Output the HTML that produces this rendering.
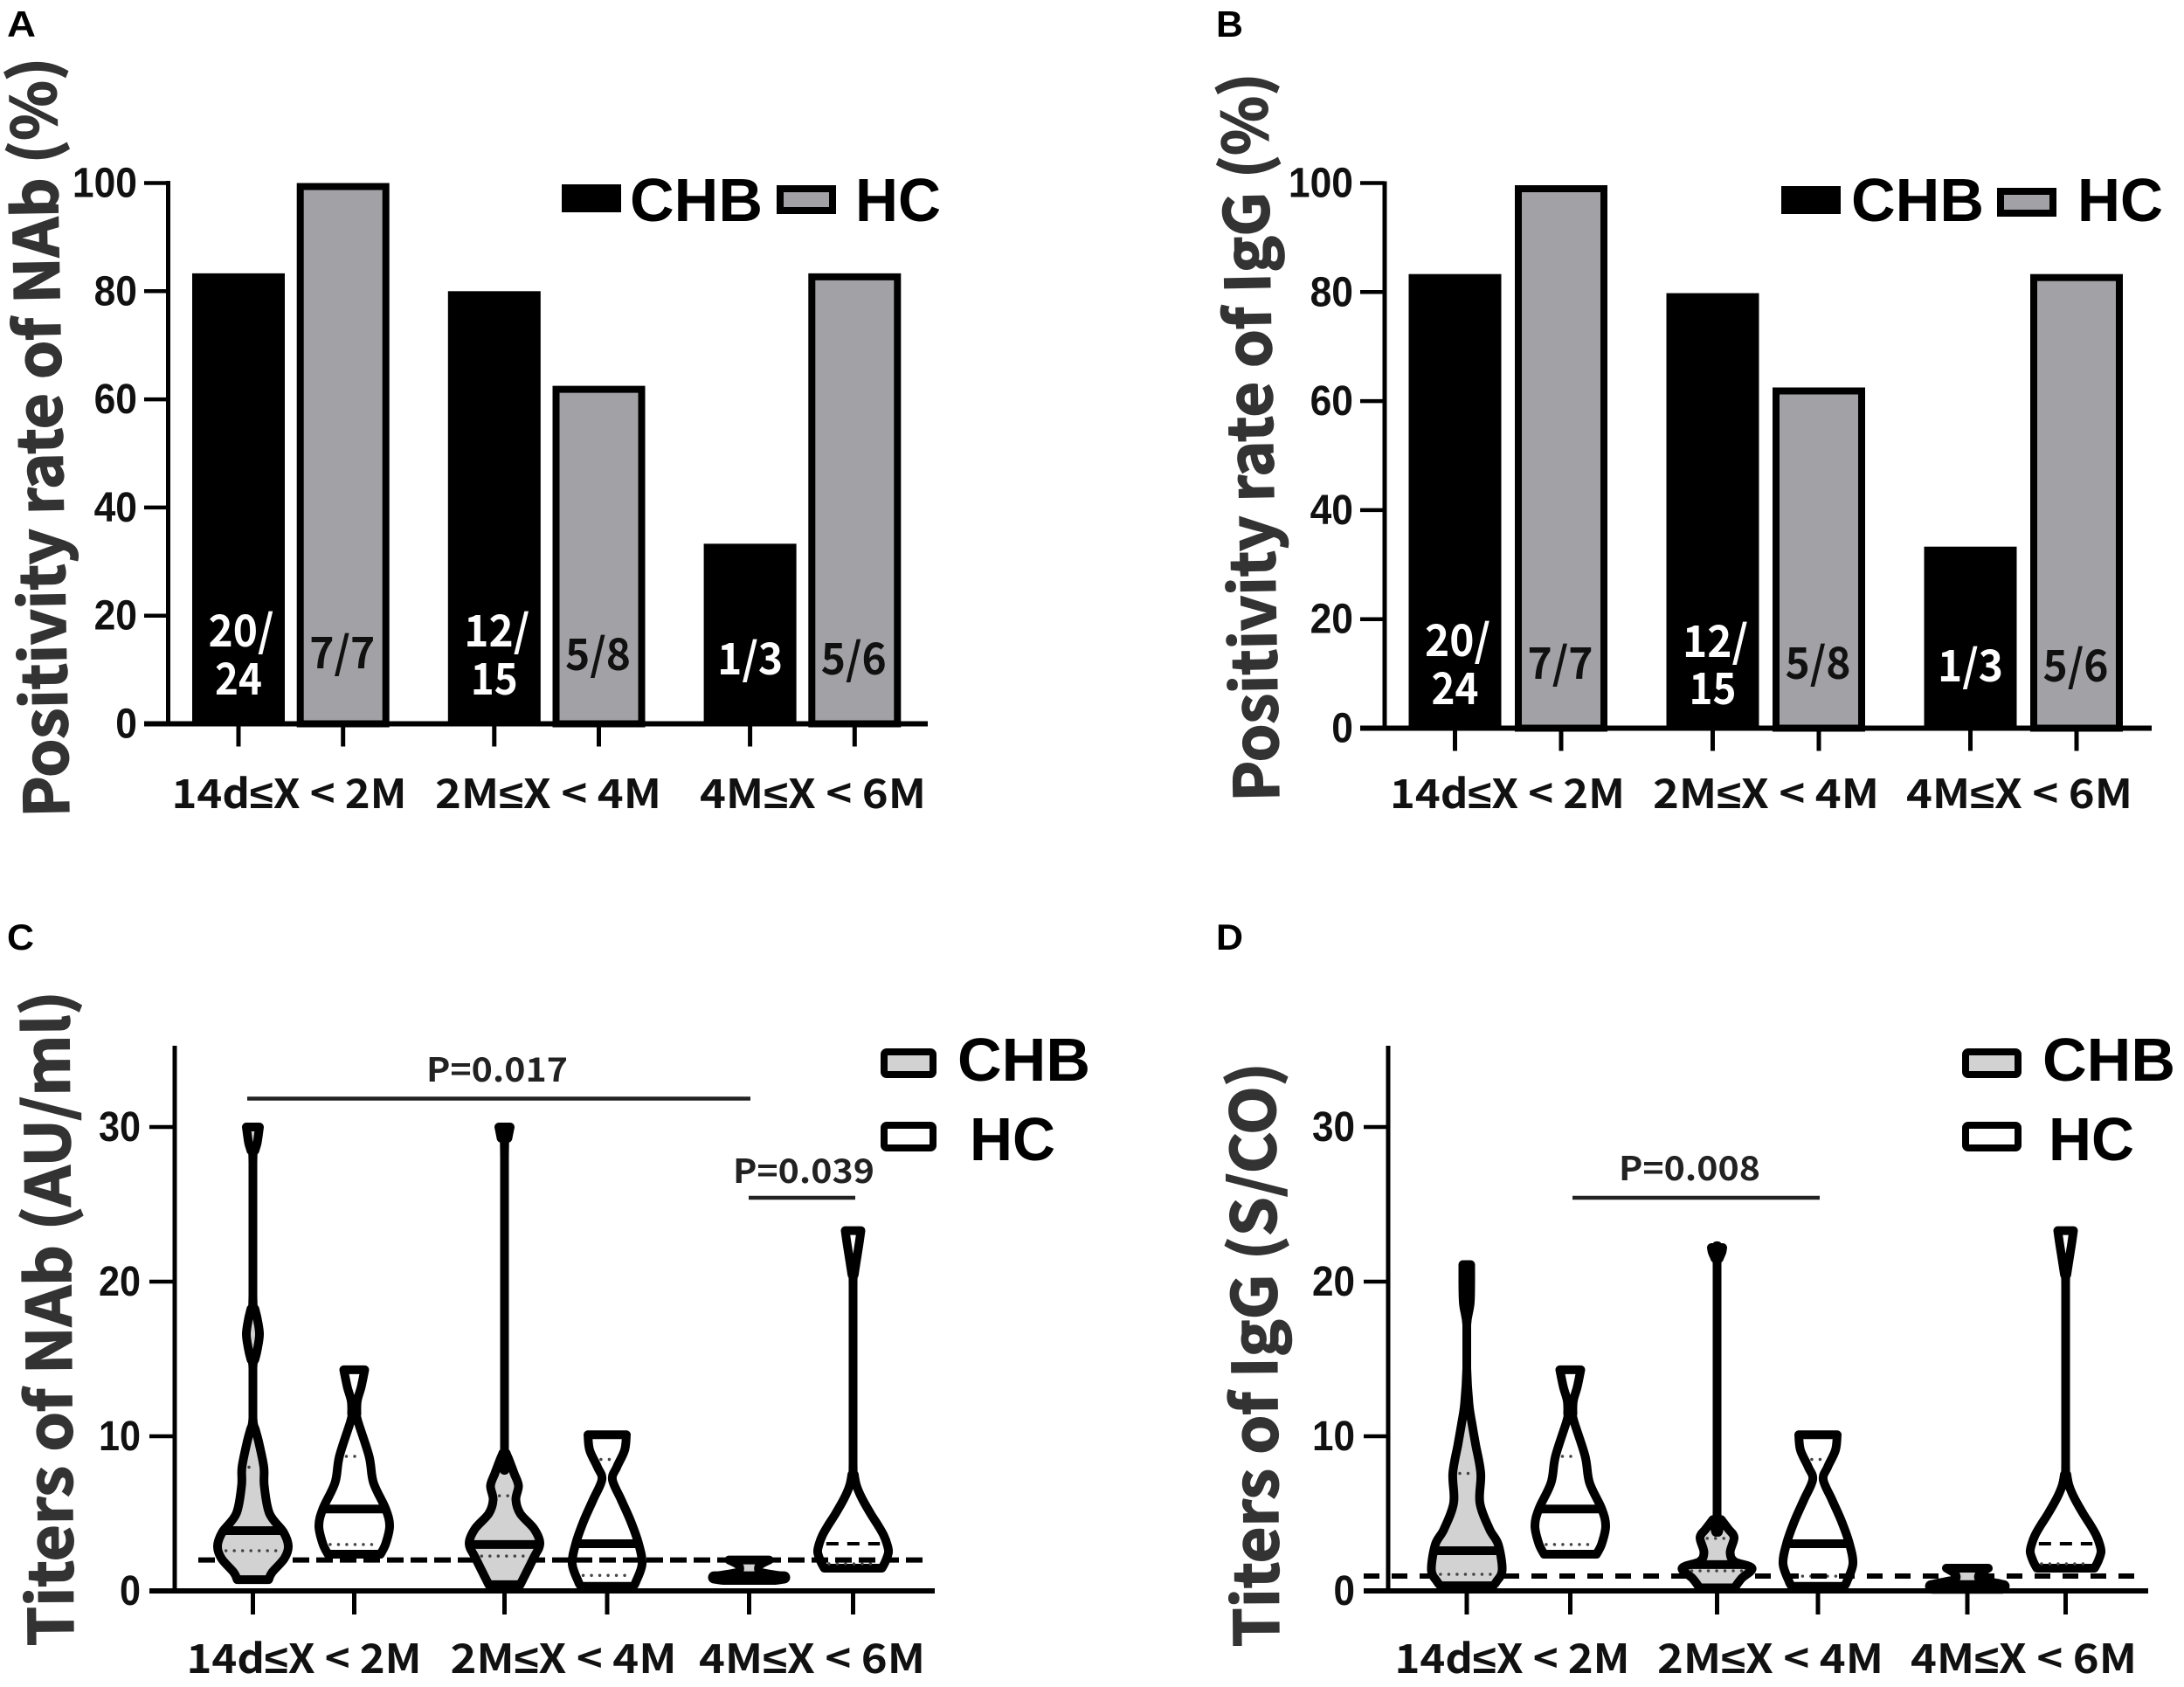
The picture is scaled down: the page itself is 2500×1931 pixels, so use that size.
<!DOCTYPE html>
<html lang="en">
<head>
<meta charset="utf-8">
<title>Positivity rates and titers of NAb and IgG</title>
<style>
html,body{margin:0;padding:0;background:#fff;}
svg{display:block;}
text{font-family:"Liberation Sans",sans-serif;font-weight:bold;}
</style>
</head>
<body>
<svg id="figure" xmlns="http://www.w3.org/2000/svg" width="2500" height="1931" viewBox="0 0 2500 1931"></svg>
<script>
/* ---------- data: shared ---------- */
const categories = ["14d≤X < 2M", "2M≤X < 4M", "4M≤X < 6M"];
const seriesNames = ["CHB", "HC"];

/* ---------- data: bar panels (percent) ---------- */
const nabPositivityCHB = [83.3, 80, 33.3];
const nabPositivityHC = [100, 62.5, 83.3];
const iggPositivityCHB = [83.3, 79.8, 33.3];
const iggPositivityHC = [99.6, 62.5, 83.3];
const positivityTicks = [0, 20, 40, 60, 80, 100];
const fractionsCHB = [["20/", "24"], ["12/", "15"], ["1/3"]];
const fractionsHC = [["7/7"], ["5/8"], ["5/6"]];

/* ---------- data: violin panels, pairs of [titer, density] ---------- */
const titerTicks = [0, 10, 20, 30];

const nabCHB14d = [[30,7.5],[29,5],[28.5,2.5],[27.7,0],[19.1,0],[18.2,2.5],[17.6,5],[16.6,7.5],[15.6,5],[15,2.5],[14.4,0],[11.2,0],[10.4,3],[9.66,6.5],[8,12.5],[6.8,13],[5,19],[3.8,35],[2.9,40.5],[2.1,36],[1.2,22],[0.73,18]];
const nabHC14d = [[14.3,12],[13.2,8],[12.3,3.5],[11.5,3],[11,4],[8.7,17],[7,22],[5.3,36],[4.2,40.5],[3.05,36],[2.37,30]];
const nabCHB2M = [[30,6.5],[29.3,4],[28.1,0],[9.3,0],[8.9,2],[8.5,5],[7.6,11],[6.8,16],[5.9,13],[5,18],[4,34],[3.05,40.5],[2.1,33],[0.4,18]];
const nabHC2M = [[10.1,22],[9.1,20],[8,11],[7.2,6],[5.9,16],[4.5,27],[3.05,36],[1.75,40],[0.6,33],[0.3,30]];
const nabCHB4M = [[2,23],[1.65,12],[1.25,12],[1.1,22],[0.95,38],[0.87,40],[0.75,38],[0.68,30]];
const nabHC4M = [[23.3,9],[22.5,7],[20.5,1.5],[19.7,0],[8.3,0],[7.5,1.5],[6.8,4],[6,10],[5,20],[4.2,29],[3.6,35],[3,39],[2.5,40.5],[1.9,37],[1.47,33]];
const nabMedians = [[3.9, 3.0, 0.87], [5.3, 3.05, 3.05]];
const nabLowerQuartiles = [[2.6, 2.25, null], [3.0, 1.0, 1.75]];
const nabUpperQuartiles = [[8.0, 6.15, null], [8.7, 8.5, null]];

const iggCHB14d = [[21.1,4.5],[18.7,4],[17.2,0],[14.4,0],[12.1,2.5],[10.8,6],[9.5,10],[7.6,16],[5.7,15],[4,26],[3,36],[1.35,40.5],[0.6,34],[0.33,30]];
const iggHC14d = [[14.3,12],[13.2,8],[12.3,3.5],[11.5,3],[11,4],[8.7,17],[7,22],[5.3,36],[4.2,40.5],[3.05,36],[2.37,30]];
const iggCHB2M = [[22.2,6.5],[21.9,5.5],[21.5,2.5],[21,0],[5.1,0],[4.6,5],[4,13],[3.45,19.5],[2.5,15],[1.9,20],[1.47,40],[0.8,28],[0.2,20]];
const iggHC2M = [[10.1,22],[9.1,20],[8,11],[7.2,6],[5.9,16],[4.5,27],[3.05,36],[1.75,40],[0.6,33],[0.3,30]];
const iggCHB4M = [[1.47,24],[1.1,14],[0.75,14],[0.6,25],[0.42,40],[0.25,42],[0.1,40]];
const iggHC4M = [[23.3,9],[22.5,7],[20.5,1.5],[19.7,0],[8.3,0],[7.5,1.5],[6.8,4],[6,10],[5,20],[4.2,29],[3.6,35],[3,39],[2.5,40.5],[1.9,37],[1.47,33]];
const iggMedians = [[2.6, 1.7, 0.3], [5.3, 3.05, 3.05]];
const iggLowerQuartiles = [[1.07, 1.3, null], [3.0, 0.95, 1.75]];
const iggUpperQuartiles = [[7.6, 3.4, null], [8.7, 8.5, null]];

/* ---------- helpers ---------- */
const NS = "http://www.w3.org/2000/svg";
const root = document.getElementById("figure");
const NOTO = 'font-family:"Noto Sans CJK SC","Liberation Sans",sans-serif;font-weight:bold;';

function mk(tag, attrs, parent) {
  const el = document.createElementNS(NS, tag);
  for (const k in attrs) el.setAttribute(k, attrs[k]);
  (parent || root).appendChild(el);
  return el;
}

function label(parent, str, x, y, size, width, fill, extra) {
  const el = mk("text", Object.assign({
    x: x, y: y, "font-size": size, fill: fill || "#111",
    textLength: width, lengthAdjust: "spacingAndGlyphs"
  }, extra || {}), parent);
  el.textContent = str;
  return el;
}

function rotatedTitle(parent, str, baselineX, bottomY, topY, size, tilt) {
  const el = mk("text", {
    x: baselineX, y: bottomY, "font-size": size, fill: "#333",
    stroke: "#333", "stroke-width": 1.6,
    style: NOTO,
    textLength: bottomY - topY, lengthAdjust: "spacingAndGlyphs",
    transform: "rotate(" + (-90 - tilt) + " " + baselineX + " " + bottomY + ")"
  }, parent);
  el.textContent = str;
  
  
  return el;
}

function panelLetter(str, x, y, w) {
  const el = label(root, str, x, y, 42, w, "#000");
  
  
}

function slugify(s) {
  return s.replace("≤", "-to-").replace(" < ", "-").replace(/\s+/g, "").toLowerCase();
}

function categoryLabel(parent, str, x, y, width) {
  const el = mk("text", {
    x: x, y: y, "font-size": 46, fill: "#111", style: NOTO,
    textLength: width, lengthAdjust: "spacingAndGlyphs"
  }, parent);
  const parts = str.split("≤");
  const a = mk("tspan", {}, el);
  a.textContent = parts[0];
  const b = mk("tspan", {style: 'font-family:"Liberation Sans",sans-serif;'}, el);
  b.textContent = "≤";
  const c = mk("tspan", {}, el);
  c.textContent = parts[1];
  return el;
}

function drawAxes(g, cfg) {
  const yTop = cfg.axisTop;
  const y0 = cfg.y(0);
  const yAxis = mk("line", {x1: cfg.axisX, x2: cfg.axisX, y1: yTop - 2, y2: y0 + 3, stroke: "#000", "stroke-width": 5}, g);
  
  
  const xAxis = mk("line", {x1: cfg.xStart, x2: cfg.xEnd, y1: y0, y2: y0, stroke: "#000", "stroke-width": 6}, g);
  
  

  cfg.ticks.forEach(function (t) {
    const ty = cfg.y(t);
    const tick = mk("line", {x1: cfg.xStart, x2: cfg.axisX, y1: ty, y2: ty, stroke: "#000", "stroke-width": 4.5}, g);
    
    
    const s = String(t);
    const w = s.length * cfg.digitWidth;
    const lab = label(g, s, cfg.tickRight - w, ty + 16, 48, w, "#111");
    
    
  });

  categories.forEach(function (c, gi) {
    [0, 1].forEach(function (si) {
      const tx = cfg.x(gi, si);
      const tick = mk("line", {x1: tx, x2: tx, y1: y0, y2: y0 + cfg.tickLen, stroke: "#000", "stroke-width": 5}, g);
      
      
    });
    const w = gi === 0 ? 269 : 259;
    const lab = categoryLabel(g, c, cfg.labelCenters[gi] - w / 2, cfg.labelY, w);
    
    
  });
}

/* ---------- bar panels ---------- */
function fractionWidth(str) {
  let w = 0;
  for (const ch of str) w += ch === "/" ? 21 : 27;
  return w;
}

function drawBarPanel(cfg) {
  const g = mk("g", {}, root);
  
  
  const half = 53;
  const y0 = cfg.y(0);

  categories.forEach(function (c, gi) {
    const top1 = cfg.y(cfg.chb[gi]);
    const bar1 = mk("rect", {x: cfg.x(gi, 0) - half, y: top1, width: half * 2, height: y0 - top1, fill: "#000"}, g);
    
    
    const top2 = cfg.y(cfg.hc[gi]);
    const bar2 = mk("rect", {x: cfg.x(gi, 1) - half + 4, y: top2 + 4, width: half * 2 - 8, height: y0 - top2 - 4, fill: "#a2a2a6", stroke: "#000", "stroke-width": 8}, g);
    
    
  });

  drawAxes(g, cfg);

  categories.forEach(function (c, gi) {
    fractionsCHB[gi].forEach(function (line, i) {
      const w = fractionWidth(line);
      const shift = line.length === 3 && line.endsWith("/") ? 3 : 0;
      const t = label(g, line, cfg.x(gi, 0) - w / 2 + shift, cfg.fractionY[gi * 2][i], 50, w, "#fff", {style: NOTO});
      
      
    });
    fractionsHC[gi].forEach(function (line, i) {
      const w = fractionWidth(line);
      const t = label(g, line, cfg.x(gi, 1) - w / 2 - 1, cfg.fractionY[gi * 2 + 1][i], 50, w, "#111", {style: NOTO});
      
      
    });
  });

  const sw1 = mk("rect", {x: cfg.legend.x1, y: cfg.legend.y1, width: 68, height: 32, fill: "#000"}, g);
  
  
  const t1 = label(g, seriesNames[0], cfg.legend.t1, 253, 70, 152, "#000");
  
  
  const sw2 = mk("rect", {x: cfg.legend.x2 + 4, y: cfg.legend.y2 + 4, width: 60, height: 25, fill: "#a2a2a6", stroke: "#000", "stroke-width": 8}, g);
  
  
  const t2 = label(g, seriesNames[1], cfg.legend.t2, 253, 70, 98, "#000");
  
  

  rotatedTitle(g, cfg.title, cfg.titleX, cfg.titleBottom, cfg.titleTop, 70, cfg.titleTilt);
}

/* ---------- violins ---------- */
function densityAt(profile, v) {
  for (let i = 0; i < profile.length - 1; i++) {
    const a = profile[i], b = profile[i + 1];
    if (v <= a[0] && v >= b[0]) {
      const t = (a[0] - v) / ((a[0] - b[0]) || 1);
      return a[1] + (b[1] - a[1]) * t;
    }
  }
  return v > profile[0][0] ? profile[0][1] : profile[profile.length - 1][1];
}

function violinPath(profile, cx, yFn) {
  const pts = profile.map(function (p) { return {h: p[1], y: yFn(p[0])}; });
  const segs = [];
  for (let i = 0; i < pts.length - 1; i++) {
    const p0 = pts[i - 1] || pts[i], p1 = pts[i], p2 = pts[i + 1], p3 = pts[i + 2] || p2;
    segs.push({
      c1h: Math.max(0, p1.h + (p2.h - p0.h) / 6), c1y: p1.y + (p2.y - p0.y) / 6,
      c2h: Math.max(0, p2.h - (p3.h - p1.h) / 6), c2y: p2.y - (p3.y - p1.y) / 6,
      p1: p1, p2: p2
    });
  }
  let d = "M" + (cx + pts[0].h) + " " + pts[0].y;
  segs.forEach(function (s) {
    d += "C" + (cx + s.c1h) + " " + s.c1y + " " + (cx + s.c2h) + " " + s.c2y + " " + (cx + s.p2.h) + " " + s.p2.y;
  });
  const last = pts[pts.length - 1];
  d += "L" + (cx - last.h) + " " + last.y;
  for (let i = segs.length - 1; i >= 0; i--) {
    const s = segs[i];
    d += "C" + (cx - s.c2h) + " " + s.c2y + " " + (cx - s.c1h) + " " + s.c1y + " " + (cx - s.p1.h) + " " + s.p1.y;
  }
  return d + "Z";
}

function drawViolin(g, profile, gi, si, cfg) {
  const cx = cfg.x(gi, si);
  const slug = seriesNames[si].toLowerCase() + '-' + slugify(categories[gi]);
  const blob = gi === 2 && si === 0;
  const v = mk("g", {}, g);
  
  
  const body = mk("path", {
    d: violinPath(profile, cx, cfg.y),
    fill: si === 0 ? "#d2d2d2" : "#fff",
    stroke: "#000", "stroke-width": 10, "stroke-linejoin": "round"
  }, v);
  
  

  const med = cfg.medians[si][gi];
  const my = cfg.y(med);
  const mh = densityAt(profile, med);
  const dashedMedian = gi === 2 && si === 1;
  const medLine = mk("line", {
    x1: cx - mh + (dashedMedian ? 8 : 0), x2: cx + mh - (dashedMedian ? 8 : 0), y1: my, y2: my,
    stroke: "#000",
    "stroke-width": blob ? 14 : (dashedMedian ? 4 : 10),
    "stroke-linecap": blob ? "round" : "butt",
    "stroke-dasharray": dashedMedian ? "14 10" : "none"
  }, v);
  
  

  [cfg.lower[si][gi], cfg.upper[si][gi]].forEach(function (q) {
    if (q === null) return;
    const qy = cfg.y(q);
    const qh = Math.max(3, densityAt(profile, q) - 8);
    const dots = mk("line", {
      x1: cx - qh, x2: cx + qh, y1: qy, y2: qy,
      stroke: "#444", "stroke-width": 3.5, "stroke-linecap": "round", "stroke-dasharray": "0 9.5"
    }, v);
    
    
  });
}

function drawViolinPanel(cfg) {
  const g = mk("g", {}, root);
  
  

  cfg.profilesHC.forEach(function (p, gi) { drawViolin(g, p, gi, 1, cfg); });

  const ty = cfg.y(cfg.threshold);
  const dash = mk("line", {
    x1: cfg.dashStart, x2: cfg.dashEnd, y1: ty, y2: ty, stroke: "#000", "stroke-width": 6,
    "stroke-dasharray": cfg.dashPattern
  }, g);
  
  

  cfg.profilesCHB.forEach(function (p, gi) { drawViolin(g, p, gi, 0, cfg); });

  drawAxes(g, cfg);

  cfg.brackets.forEach(function (b) {
    const l = mk("line", {x1: b.x1, x2: b.x2, y1: b.y, y2: b.y, stroke: "#222", "stroke-width": 4.5}, g);
    
    
    const t = label(g, b.text, b.tx, b.ty, 38, 162, "#222", {style: NOTO});
    
    
  });

  const L = cfg.legend;
  const sw1 = mk("rect", {x: L.x + 4, y: 1204, width: L.w - 8, height: 26, rx: 3, fill: "#d2d2d2", stroke: "#000", "stroke-width": 8}, g);
  
  
  const t1 = label(g, seriesNames[0], L.t1, 1237, 70, 152, "#000");
  
  
  const sw2 = mk("rect", {x: L.x + 4, y: 1288, width: L.w - 8, height: 26, rx: 3, fill: "#fff", stroke: "#000", "stroke-width": 8}, g);
  
  
  const t2 = label(g, seriesNames[1], L.t2, 1328, 70, 98, "#000");
  
  

  rotatedTitle(g, cfg.title, cfg.titleX, cfg.titleBottom, cfg.titleTop, 70, cfg.titleTilt);
}

/* ---------- panels ---------- */
panelLetter("A", 8, 42, 33);
panelLetter("B", 1392, 42, 31);
panelLetter("C", 8, 1087, 31);
panelLetter("D", 1392, 1087, 31);

drawBarPanel({
  name: "panel-a-nab-positivity",
  title: "Positivity rate of NAb (%)",
  titleX: 79, titleBottom: 935, titleTop: 65, titleTilt: 1.05,
  chb: nabPositivityCHB, hc: nabPositivityHC, ticks: positivityTicks,
  y: function (v) { return 828.5 - v * 6.19; },
  x: function (g, s) { return 273 + g * 292.8 + s * 119.7; },
  axisX: 192.5, axisTop: 209, xStart: 165, xEnd: 1062, tickLen: 26, tickRight: 157, digitWidth: 24.7,
  labelCenters: [331, 627.5, 930.5], labelY: 925,
  fractionY: [[740, 795], [765], [740, 795], [767], [772], [772]],
  legend: {x1: 643, y1: 211, t1: 721, x2: 889, y2: 212, t2: 979}
});

drawBarPanel({
  name: "panel-b-igg-positivity",
  title: "Positivity rate of IgG (%)",
  titleX: 1464, titleBottom: 917, titleTop: 83, titleTilt: 1,
  chb: iggPositivityCHB, hc: iggPositivityHC, ticks: positivityTicks,
  y: function (v) { return 833.5 - v * 6.24; },
  x: function (g, s) { return 1665.5 + g * 295 + s * 121.5; },
  axisX: 1585, axisTop: 209.5, xStart: 1557, xEnd: 2463, tickLen: 26, tickRight: 1549, digitWidth: 24.7,
  labelCenters: [1725.5, 2021.5, 2311.5], labelY: 925,
  fractionY: [[751, 806], [777], [752, 806], [777], [780], [780]],
  legend: {x1: 2039, y1: 213, t1: 2119, x2: 2286, y2: 215, t2: 2378}
});

drawViolinPanel({
  name: "panel-c-nab-titers",
  title: "Titers of NAb (AU/ml)",
  titleX: 84, titleBottom: 1884, titleTop: 1134, titleTilt: 0.4,
  profilesCHB: [nabCHB14d, nabCHB2M, nabCHB4M],
  profilesHC: [nabHC14d, nabHC2M, nabHC4M],
  medians: nabMedians, lower: nabLowerQuartiles, upper: nabUpperQuartiles,
  threshold: 2, ticks: titerTicks,
  y: function (v) { return 1821 - v * 17.7; },
  x: function (g, s) { return 289.5 + g * 284 + (g === 1 ? 4 : 0) + s * (116 + 1.5 * g); },
  axisX: 200, axisTop: 1199, xStart: 171, xEnd: 1070, tickLen: 27, tickRight: 161, digitWidth: 24,
  labelCenters: [348, 645, 929.5], labelY: 1915,
  dashStart: 227, dashEnd: 1064, dashPattern: "19 8",
  brackets: [
    {x1: 283, x2: 859, y: 1257.5, text: "P=0.017", tx: 488, ty: 1238},
    {x1: 857, x2: 979, y: 1371, text: "P=0.039", tx: 839, ty: 1354}
  ],
  legend: {x: 1008, w: 64, t1: 1096, t2: 1110}
});

drawViolinPanel({
  name: "panel-d-igg-titers",
  title: "Titers of IgG (S/CO)",
  titleX: 1464, titleBottom: 1885, titleTop: 1216, titleTilt: 0.4,
  profilesCHB: [iggCHB14d, iggCHB2M, iggCHB4M],
  profilesHC: [iggHC14d, iggHC2M, iggHC4M],
  medians: iggMedians, lower: iggLowerQuartiles, upper: iggUpperQuartiles,
  threshold: 0.96, ticks: titerTicks,
  y: function (v) { return 1821 - v * 17.7; },
  x: function (g, s) { return 1679 + g * 286.5 + s * (118.5 - 3 * g); },
  axisX: 1589, axisTop: 1199, xStart: 1561, xEnd: 2459, tickLen: 27, tickRight: 1551, digitWidth: 24.5,
  labelCenters: [1731, 2026.5, 2316.5], labelY: 1915,
  dashStart: 1561, dashEnd: 2453, dashPattern: "18 14",
  brackets: [
    {x1: 1800, x2: 2083, y: 1371, text: "P=0.008", tx: 1853, ty: 1351}
  ],
  legend: {x: 2246, w: 68, t1: 2338, t2: 2345}
});
</script>
</body>
</html>
